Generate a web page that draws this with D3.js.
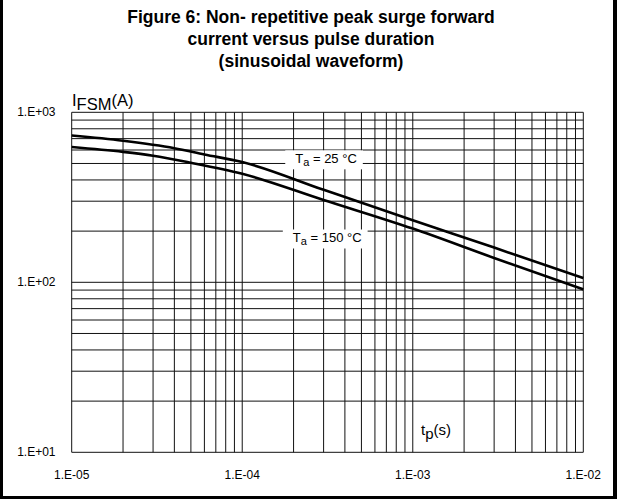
<!DOCTYPE html>
<html>
<head>
<meta charset="utf-8">
<script src="https://cdn.jsdelivr.net/npm/d3@7"></script>
<style>
  html, body { margin: 0; padding: 0; background: #fff; }
  svg { display: block; font-family: "Liberation Sans", Arial, sans-serif; }
</style>
</head>
<body>
<div class="chart"></div>
<script>
// values
const titleLines = ["Figure 6: Non- repetitive peak surge forward", "current versus pulse duration", "(sinusoidal waveform)"];
const xTicks = [1e-5, 1e-4, 1e-3, 1e-2];
const xTickLabels = ["1.E-05", "1.E-04", "1.E-03", "1.E-02"];
const yTicks = [10, 100, 1000];
const yTickLabels = ["1.E+01", "1.E+02", "1.E+03"];

const tp25 = [1e-5, 2e-5, 4e-5, 6e-5, 1e-4, 3e-4, 1e-3, 3e-3, 1e-2];
const ifsm25 = [730, 680, 615, 565, 510, 350, 232, 160, 106];
const tp150 = [1e-5, 2e-5, 3e-5, 5e-5, 1e-4, 3e-4, 1e-3, 3e-3, 1e-2];
const ifsm150 = [625, 585, 555, 505, 435, 305, 207, 139, 91];

// curve labels: [tp, ifsm, temperature]
const curveLabels = [[3.1e-4, 529, "25"], [3.15e-4, 181, "150"]];

const W = 621, H = 499;
const svg = d3.select(".chart").append("svg")
    .attr("width", W).attr("height", H);

// frame
svg.append("rect").attr("x", 0).attr("y", 0).attr("width", 3).attr("height", H).attr("fill", "#000");
svg.append("rect").attr("x", 613).attr("y", 0).attr("width", 4).attr("height", H).attr("fill", "#000");
svg.append("rect").attr("x", 0).attr("y", 496).attr("width", 617).attr("height", 3).attr("fill", "#000");

// title
svg.append("g").selectAll("text").data(titleLines).enter().append("text")
    .attr("x", 311).attr("y", (d, i) => 23 + i * 22)
    .attr("text-anchor", "middle")
    .attr("font-weight", "bold").attr("font-size", 17.5)
    .text(d => d);

const x = d3.scaleLog().domain([1e-5, 1e-2]).range([71.7, 583.3]);
const y = d3.scaleLog().domain([10, 1000]).range([452.3, 112.3]);

const grid = svg.append("g").attr("stroke", "#111").attr("stroke-width", 1);
grid.selectAll(".vx").data(x.ticks()).enter().append("line")
    .attr("x1", d => x(d)).attr("x2", d => x(d))
    .attr("y1", y.range()[0]).attr("y2", y.range()[1]);
grid.selectAll(".hy").data(y.ticks()).enter().append("line")
    .attr("y1", d => y(d)).attr("y2", d => y(d))
    .attr("x1", x.range()[0]).attr("x2", x.range()[1]);

// tick labels
svg.append("g").selectAll("text").data(xTicks).enter().append("text")
    .attr("x", d => x(d)).attr("y", 479)
    .attr("text-anchor", "middle").attr("font-size", 12)
    .text((d, i) => xTickLabels[i]);
svg.append("g").selectAll("text").data(yTicks).enter().append("text")
    .attr("x", 55.5).attr("y", d => y(d) + 4)
    .attr("text-anchor", "end").attr("font-size", 12)
    .text((d, i) => yTickLabels[i]);

// curves
const line = d3.line().x(d => x(d[0])).y(d => y(d[1])).curve(d3.curveMonotoneX);
[[tp25, ifsm25], [tp150, ifsm150]].forEach(s => {
    svg.append("path")
        .attr("d", line(s[0].map((t, i) => [t, s[1][i]])))
        .attr("fill", "none").attr("stroke", "#000").attr("stroke-width", 2.6);
});

// curve labels with white background
curveLabels.forEach(c => {
    const g = svg.append("g");
    const bg = g.append("rect").attr("fill", "#fff");
    const t = g.append("text")
        .attr("x", x(c[0])).attr("y", y(c[1]) + 4)
        .attr("text-anchor", "middle").attr("font-size", 13);
    t.append("tspan").text("T");
    t.append("tspan").attr("dy", 3).attr("font-size", 11).text("a");
    t.append("tspan").attr("dy", -3).text(" = " + c[2] + " \u00B0C");
    const b = t.node().getBBox();
    bg.attr("x", b.x - 10).attr("y", b.y - 1).attr("width", b.width + 16).attr("height", b.height + 2);
});

// axis titles
const yt = svg.append("text").attr("x", 72).attr("y", 105.5).attr("font-size", 16.5);
yt.append("tspan").text("I");
yt.append("tspan").attr("dy", 4.5).text("FSM");
yt.append("tspan").attr("dy", -4.5).text("(A)");

const xt = svg.append("text").attr("x", 421).attr("y", 435).attr("font-size", 15);
xt.append("tspan").text("t");
xt.append("tspan").attr("dy", 4).text("p");
xt.append("tspan").attr("dy", -4).text("(s)");
</script>
</body>
</html>
